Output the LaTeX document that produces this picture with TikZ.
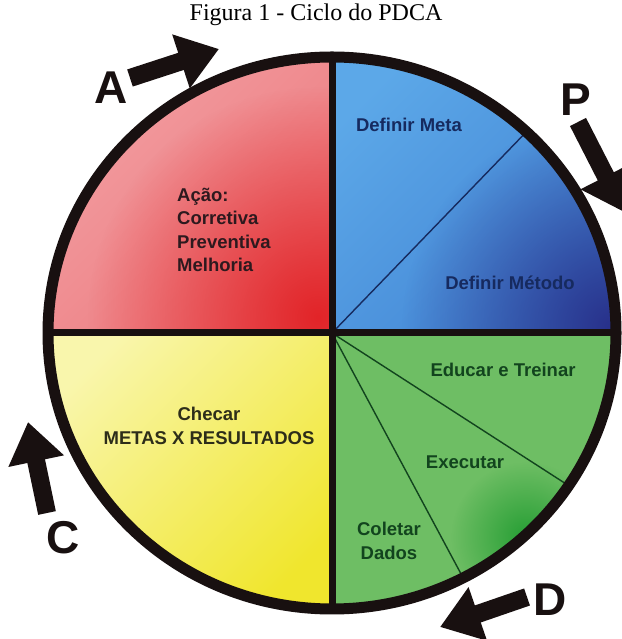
\documentclass[tikz,border=0pt]{standalone}
\usepackage{fontspec}
\setmainfont{Liberation Serif}
\newfontfamily\lsans{Liberation Sans}
\usetikzlibrary{arrows.meta,fadings}
\definecolor{redL}{RGB}{242,158,162}
\definecolor{redM}{RGB}{237,122,126}
\definecolor{redD}{RGB}{226,36,40}
\definecolor{blueL}{RGB}{92,168,232}
\definecolor{blueM}{RGB}{66,132,212}
\definecolor{blueD}{RGB}{40,48,138}
\definecolor{greenB}{RGB}{110,190,100}
\definecolor{greenD}{RGB}{38,158,52}
\definecolor{yelL}{RGB}{249,246,172}
\definecolor{yelM}{RGB}{246,240,125}
\definecolor{yelD}{RGB}{240,230,45}
\definecolor{txtR}{RGB}{45,25,30}
\definecolor{txtB}{RGB}{22,42,95}
\definecolor{txtG}{RGB}{18,68,30}
\definecolor{txtY}{RGB}{45,45,25}
\definecolor{ringc}{RGB}{24,16,16}
\tikzfading[name=softspot, inner color=transparent!0, outer color=transparent!100]
\tikzset{
  lbl/.style={font=\lsans\bfseries\fontsize{18.5}{23.4}\selectfont, inner sep=0pt},
  big/.style={font=\lsans\bfseries\fontsize{46}{46}\selectfont, inner sep=0pt, text=ringc},
  blockarrow/.style={draw=ringc, line width=18pt, -{Triangle[length=40pt,width=54pt]}},
  thinline/.style={line width=1.4pt},
  divider/.style={draw=ringc, line width=7pt},
}
\begin{document}
\begin{tikzpicture}[x=1pt,y=1pt]
\useasboundingbox[fill=white] (0,0) rectangle (621,639);
\coordinate (C) at (332,306);
% quadrant fills
\begin{scope}
\clip (C) -- (332,582) arc[start angle=90,end angle=180,x radius=284,y radius=276] -- cycle;
\shade[top color=redL, bottom color=redM, shading angle=45] (40,300) rectangle (338,590);
\fill[redD, path fading=softspot] (318,322) circle[radius=230];
\end{scope}
\begin{scope}
\clip (C) -- (616,306) arc[start angle=0,end angle=90,x radius=284,y radius=276] -- cycle;
\shade[top color=blueL, bottom color=blueM, shading angle=45] (326,300) rectangle (624,590);
\fill[blueD, path fading=softspot] (612,312) circle[radius=210];
\end{scope}
\begin{scope}
\clip (C) -- (48,306) arc[start angle=180,end angle=270,x radius=284,y radius=276] -- cycle;
\shade[top color=yelL, middle color=yelM, bottom color=yelD, shading angle=45] (40,22) rectangle (338,312);
\end{scope}
\begin{scope}
\clip (C) -- (332,30) arc[start angle=270,end angle=360,x radius=284,y radius=276] -- cycle;
\fill[greenB] (326,22) rectangle (624,312);
\fill[greenD, path fading=softspot] (526,102) circle[radius=75];
\end{scope}
% thin sector lines
\coordinate (pm) at (526.4,507.2);
\coordinate (g1) at (568.6,153.4);
\coordinate (g2) at (463.1,61.2);
\draw[thinline, draw=txtB] (C) -- (pm);
\draw[thinline, draw=txtG] (C) -- (g1);
\draw[thinline, draw=txtG] (C) -- (g2);
% dividers
\coordinate (top) at (332,582);
\coordinate (bot) at (332,30);
\coordinate (lft) at (48,306);
\coordinate (rgt) at (616,306);
\draw[divider] (top) -- (bot);
\draw[divider] (lft) -- (rgt);
% ring
\draw[draw=ringc, line width=11pt] (C) ellipse[x radius=284, y radius=276];
% texts
\node[font=\fontsize{24}{26}\selectfont, inner sep=0pt] (title) at (316,624) {Figura 1 - Ciclo do PDCA};
\node[lbl, text=txtR, align=left] (acao) at (224,409) {Ação:\\Corretiva\\Preventiva\\Melhoria};
\node[lbl, text=txtB] (meta) at (409,514) {Definir Meta};
\node[lbl, text=txtB] (metodo) at (510,356) {Definir Método};
\node[lbl, text=txtG] (educar) at (503,269) {Educar e Treinar};
\node[lbl, text=txtG] (exec) at (465,177) {Executar};
\node[lbl, text=txtG, align=center] (coletar) at (389,98) {Coletar\\Dados};
\node[lbl, text=txtY, align=center] (checar) at (209,213) {Checar\\METAS X RESULTADOS};
% arrows
\coordinate (aT) at (130,561);
\coordinate (aH) at (219,590);
\coordinate (pT) at (578,517);
\coordinate (pH) at (624,427);
\coordinate (dT) at (527,42);
\coordinate (dH) at (440,12);
\coordinate (cT) at (47,126);
\coordinate (cH) at (28,217);
\draw[blockarrow] (aT) -- (aH);
\draw[blockarrow] (pT) -- (pH);
\draw[blockarrow] (dT) -- (dH);
\draw[blockarrow] (cT) -- (cH);
% letters
\node[big] (lA) at (111,551) {A};
\node[big] (lP) at (576,539) {P};
\node[big] (lC) at (63,101) {C};
\node[big] (lD) at (550,39) {D};
\end{tikzpicture}
\end{document}
